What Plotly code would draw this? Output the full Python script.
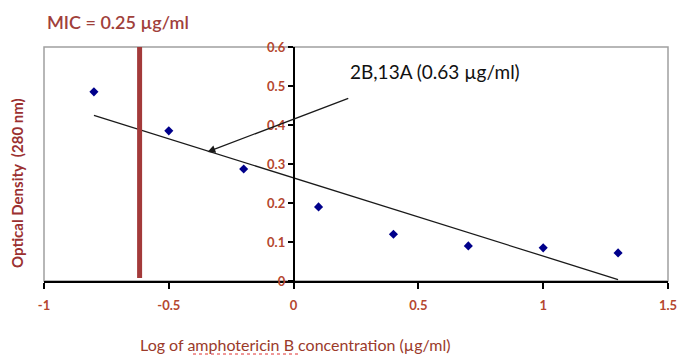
import numpy as np
import plotly.graph_objects as go

# Data
log_conc = [-0.8, -0.5, -0.2, 0.1, 0.4, 0.7, 1.0, 1.3]
optical_density = [0.485, 0.385, 0.287, 0.19, 0.12, 0.09, 0.085, 0.072]
mic_log = -0.617
x_ticks = [-1, -0.5, 0, 0.5, 1, 1.5]
y_ticks = [0, 0.1, 0.2, 0.3, 0.4, 0.5, 0.6]
y_tick_text = ["0", "0.1", "0.2", "0.3", "0.4", "0.5", "0.6"]

W, H = 679, 356
ML, MR, MT, MB = 44, 11, 47, 75
pw, ph = W - ML - MR, H - MT - MB
xr = [-1, 1.5]
yr = [0, 0.6]

tick_color = "#b5472f"
font_fam = "Lato, 'Open Sans', sans-serif"

# linear trendline
slope, intercept = np.polyfit(log_conc, optical_density, 1)
tx = [min(log_conc), max(log_conc)]
ty = [slope * v + intercept for v in tx]

fig = go.Figure()
fig.add_trace(go.Scatter(x=log_conc, y=optical_density, mode="markers",
                         marker=dict(symbol="diamond", size=7, color="#00008b"),
                         showlegend=False, hoverinfo="x+y"))
fig.add_trace(go.Scatter(x=tx, y=ty, mode="lines",
                         line=dict(color="#1a1a1a", width=1.3),
                         showlegend=False, hoverinfo="skip"))

# MIC vertical line
fig.add_shape(type="line", xref="x", yref="y", x0=mic_log, x1=mic_log,
              y0=0.008, y1=0.6, line=dict(color="#a33a3a", width=5))

# plot border
fig.add_shape(type="rect", xref="paper", yref="paper", x0=0, x1=1, y0=0, y1=1,
              line=dict(color="#a0a0a0", width=1.5), layer="below")

y_pos = (0 - xr[0]) / (xr[1] - xr[0])
tickfont = dict(color=tick_color, size=13, family=font_fam, weight="bold")

fig.update_layout(
    width=W, height=H,
    margin=dict(l=ML, r=MR, t=MT, b=MB, autoexpand=False),
    plot_bgcolor="white", paper_bgcolor="white",
    font=dict(family=font_fam),
    xaxis=dict(range=xr, tickvals=x_ticks, ticktext=[str(v) for v in x_ticks],
               showgrid=False, zeroline=False, showline=True, linecolor="black",
               linewidth=1.5, ticks="outside", ticklen=6, tickcolor="black",
               tickwidth=1.5, automargin=False, tickfont=tickfont,
               ticklabelstandoff=6),
    yaxis=dict(range=yr, tickvals=y_ticks, ticktext=y_tick_text,
               showgrid=False, zeroline=False, showline=True, linecolor="black",
               linewidth=1.5, ticks="outside", ticklen=5, tickcolor="black",
               tickwidth=1.5, anchor="free", position=y_pos, automargin=False,
               tickfont=tickfont),
)

# arrow annotation
fig.add_annotation(x=-0.345, y=0.331, ax=0.225, ay=0.47, xref="x", yref="y",
                   axref="x", ayref="y", text="", showarrow=True,
                   arrowhead=2, arrowsize=1.2, arrowwidth=1.3, arrowcolor="#1a1a1a")
fig.add_annotation(x=0.568, y=0.536, xref="x", yref="y", text="2B,13A (0.63 µg/ml)",
                   showarrow=False, font=dict(size=19, color="#111111", family=font_fam))

# title
fig.add_annotation(x=(45 - ML) / pw, y=1 + (MT - 22) / ph,
                   xref="paper", yref="paper", xanchor="left", yanchor="middle",
                   text="MIC = 0.25 µg/ml", showarrow=False,
                   font=dict(size=18, color="#a0403a", family=font_fam, weight=600))
# y axis title
fig.add_annotation(x=(17 - ML) / pw, y=(MT + ph - 183) / ph, xref="paper", yref="paper",
                   xanchor="center", yanchor="middle", textangle=-90,
                   text="<b>Optical Density  (280 nm)</b>", showarrow=False,
                   font=dict(size=15, color="#9b3030", family=font_fam))
# x axis title
fig.add_annotation(x=(295 - ML) / pw, y=-(344 - MT - ph) / ph, xref="paper", yref="paper",
                   xanchor="center", yanchor="middle",
                   text="Log of amphotericin B concentration (µg/ml)", showarrow=False,
                   font=dict(size=16, color="#9b3a2a", family=font_fam))
# spellcheck squiggle under "amphotericin"
fig.add_shape(type="line", xref="paper", yref="paper",
              x0=(193 - ML) / pw, x1=(300 - ML) / pw,
              y0=-(354 - MT - ph) / ph, y1=-(354 - MT - ph) / ph,
              line=dict(color="#e03030", width=1, dash="dot"))

fig.write_html("out.html", config={"displayModeBar": False},
               post_script="document.body.style.margin='0';document.body.style.overflow='hidden';")
